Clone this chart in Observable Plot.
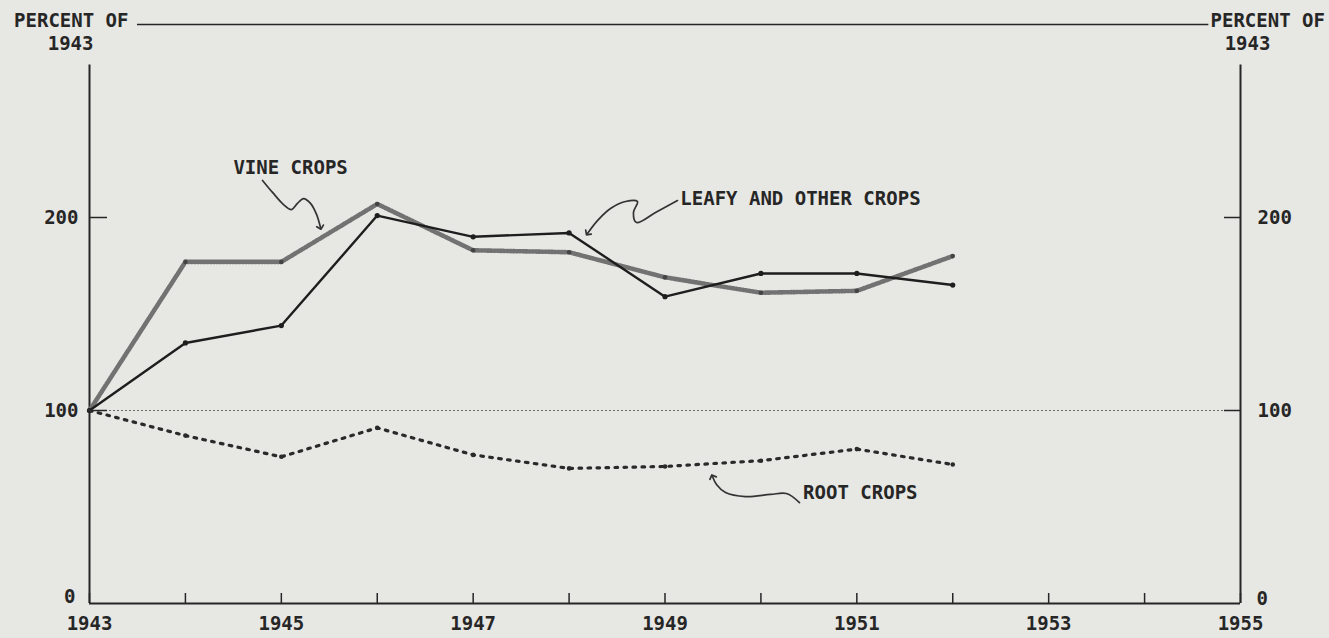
<!DOCTYPE html>
<html>
<head>
<meta charset="utf-8">
<script src="https://cdn.jsdelivr.net/npm/d3@7"></script>
<script src="https://cdn.jsdelivr.net/npm/@observablehq/plot@0.6"></script>
<style>
  html, body { margin: 0; padding: 0; background: #e7e7e4; }
  #chart { width: 1329px; height: 638px; }
</style>
</head>
<body>
<div id="chart"></div>
<script>
// ---- data ----
const years = [1943, 1944, 1945, 1946, 1947, 1948, 1949, 1950, 1951, 1952];
const vineCrops  = [100, 177, 177, 207, 183, 182, 169, 161, 162, 180];
const leafyCrops = [100, 135, 144, 201, 190, 192, 159, 171, 171, 165];
const rootCrops  = [100, 87, 76, 91, 77, 70, 71, 74, 80, 72];

const xTickYears = [1943,1944,1945,1946,1947,1948,1949,1950,1951,1952,1953,1954,1955];
const xLabelYears = [1943, 1945, 1947, 1949, 1951, 1953, 1955];
const yTickValues = [100, 200];
const yLabelValues = [100, 200];
const yZeroLabel = [0];

// annotation labels and hand-drawn arrows (data units)
const labels = [
  {text: "VINE CROPS", x: 1944.50, y: 225.9},
  {text: "LEAFY AND OTHER CROPS", x: 1949.16, y: 209.8},
  {text: "ROOT CROPS", x: 1950.44, y: 57.5}
];
const vineArrow = [
  [1944.804, 219.2], [1944.908, 213.0], [1945.023, 206.7], [1945.106, 204.1],
  [1945.168, 207.3], [1945.231, 209.8], [1945.304, 207.3], [1945.367, 201.6], [1945.408, 194.8]
];
const leafyArrow = [
  [1949.130, 208.8], [1948.901, 202.6], [1948.703, 197.4], [1948.671, 202.6],
  [1948.713, 208.3], [1948.588, 208.3], [1948.432, 204.7], [1948.296, 198.4], [1948.192, 191.7]
];
const rootArrow = [
  [1950.402, 52.3], [1950.266, 57.0], [1950.100, 56.5], [1949.839, 55.4],
  [1949.631, 57.5], [1949.537, 61.7], [1949.495, 65.8]
];

const toRows = (vals) => years.map((yr, i) => ({year: yr, value: vals[i]}));
const toPts = (arr) => arr.map(([x, y]) => ({x, y}));

const FONT = "DejaVu Sans Mono";
const FS = 19;
const FW = "bold";
const INK = "#262626";

const W = 1329, H = 638, ML = 89, MR = 89, MT = 24, MB = 35;
const PW = W - ML - MR, PH = H - MT - MB;

const txt = {fontFamily: FONT, fontSize: FS, fontWeight: FW, fill: INK};

const chart = Plot.plot({
  width: W,
  height: H,
  marginLeft: ML,
  marginRight: MR,
  marginTop: MT,
  marginBottom: MB,
  x: {domain: [1943, 1955], axis: null},
  y: {domain: [0, 300], axis: null},
  style: {background: "#e7e7e4", fontFamily: FONT, fontSize: FS + "px", color: INK, overflow: "visible"},
  marks: [
    // frame pieces
    Plot.ruleY([300], {x1: 1943.5, x2: 1954.67, stroke: INK, strokeWidth: 1.6}),
    Plot.ruleX([1943, 1955], {y1: 0, y2: 279, stroke: INK, strokeWidth: 2}),
    Plot.ruleY([0], {x1: 1943, x2: 1955, stroke: INK, strokeWidth: 2}),
    Plot.ruleY([100], {x1: 1943, x2: 1955, stroke: "#6a6a6a", strokeWidth: 1, strokeDasharray: "2,2"}),

    // ticks (inward)
    Plot.ruleX(xTickYears, {y1: 300, y2: 0, insetTop: PH - 10, stroke: INK, strokeWidth: 1.5}),
    Plot.ruleY(yTickValues, {x1: 1943, x2: 1955, insetRight: PW - 18, stroke: INK, strokeWidth: 1.5}),
    Plot.ruleY(yTickValues, {x1: 1943, x2: 1955, insetLeft: PW - 16, stroke: INK, strokeWidth: 1.5}),

    // tick labels
    Plot.text(xLabelYears, {x: d => d, y: 0, dy: 20, text: d => String(d), ...txt}),
    Plot.text(yLabelValues, {x: 1943, y: d => d, dx: -11, text: d => String(d), textAnchor: "end", ...txt}),
    Plot.text(yZeroLabel, {x: 1943, y: d => d, dx: -14, dy: -7, text: d => String(d), textAnchor: "end", ...txt}),
    Plot.text(yLabelValues, {x: 1955, y: d => d, dx: 17, text: d => String(d), textAnchor: "start", ...txt}),
    Plot.text(yZeroLabel, {x: 1955, y: d => d, dx: 16, dy: -5, text: d => String(d), textAnchor: "start", ...txt}),

    // unit labels
    Plot.text(["PERCENT OF"], {x: 1943, y: 300, dx: 39, dy: -4, text: d => d, textAnchor: "end", ...txt}),
    Plot.text(["1943"], {x: 1943, y: 300, dx: 4, dy: 19, text: d => d, textAnchor: "end", ...txt}),
    Plot.text(["PERCENT OF"], {x: 1955, y: 300, dx: -30, dy: -4, text: d => d, textAnchor: "start", ...txt}),
    Plot.text(["1943"], {x: 1955, y: 300, dx: 7, dy: 19, text: d => d, textAnchor: "middle", ...txt}),

    // series
    Plot.line(toRows(vineCrops), {x: "year", y: "value", stroke: "#727272", strokeWidth: 4.6, strokeDasharray: "1.4,1.8"}),
    Plot.dot(toRows(vineCrops), {x: "year", y: "value", r: 2.3, fill: "#444", stroke: "none"}),
    Plot.line(toRows(leafyCrops), {x: "year", y: "value", stroke: "#1e1e1e", strokeWidth: 2.4}),
    Plot.dot(toRows(leafyCrops), {x: "year", y: "value", r: 2.6, fill: "#1e1e1e", stroke: "none"}),
    Plot.line(toRows(rootCrops), {x: "year", y: "value", stroke: "#2a2a2a", strokeWidth: 3.2, strokeDasharray: "2.6,6.4"}),
    Plot.dot(toRows(rootCrops), {x: "year", y: "value", r: 2.3, fill: "#2a2a2a", stroke: "none"}),

    // annotations
    Plot.line(toPts(vineArrow), {x: "x", y: "y", curve: "catmull-rom", stroke: "#333", strokeWidth: 1.7, markerEnd: "arrow"}),
    Plot.line(toPts(leafyArrow), {x: "x", y: "y", curve: "catmull-rom", stroke: "#333", strokeWidth: 1.7, markerEnd: "arrow"}),
    Plot.line(toPts(rootArrow), {x: "x", y: "y", curve: "catmull-rom", stroke: "#333", strokeWidth: 1.7, markerEnd: "arrow"}),
    Plot.text(labels, {x: "x", y: "y", text: "text", textAnchor: "start", ...txt})
  ]
});
document.getElementById("chart").appendChild(chart);
</script>
</body>
</html>
